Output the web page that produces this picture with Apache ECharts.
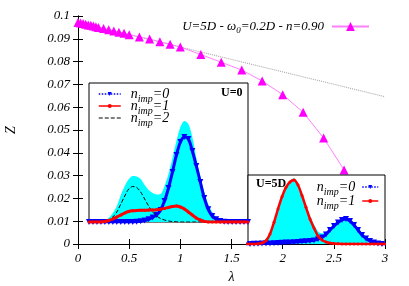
<!DOCTYPE html>
<html>
<head>
<meta charset="utf-8">
<script src="https://cdn.jsdelivr.net/npm/echarts@6/dist/echarts.min.js"></script>
<style>html,body{margin:0;padding:0;background:#fff}#c{width:409px;height:286px}</style>
</head>
<body>
<div id="c"></div>
<script>
// ---- main plot data ----
var lambdaVals = [0,0.025,0.05,0.075,0.1,0.125,0.15,0.175,0.2,0.25,0.3,0.35,0.4,0.45,0.5,0.6,0.7,0.8,0.9,1.0,1.2,1.4,1.6,1.8,2.0,2.2,2.4,2.6,2.8];
var zVals = [0.0972,0.0969,0.0967,0.0964,0.0961,0.0959,0.0956,0.0953,0.0950,0.0945,0.0940,0.0934,0.0929,0.0924,0.0918,0.0908,0.0899,0.0887,0.0876,0.0864,0.0831,0.0797,0.0763,0.0715,0.0655,0.0578,0.0465,0.0325,0.0100];
var linX = [0, 3];
var linZ = [0.0973, 0.0646];
var xTicks = [0, 0.5, 1, 1.5, 2, 2.5, 3];
var yTicks = [0,0.01,0.02,0.03,0.04,0.05,0.06,0.07,0.08,0.09,0.1];

// ---- inset U=0 (arbitrary units) ----
var ins1X = [0,4,8,12,16,20,24,28,32,36,40,44,48,52,56,60,64,68,72,76,80,84,88,92,96,100,104,108,112,116,120,124,128,132,136,140,144,148,152,156,160];
var u0Total = [0,0,0,0,1.5,4.3,9,16,27,36,42.7,46,45.5,43,37,32,29,27.5,28,36,48,64,81,95,101,98,85,64,46,30,18,10,4.5,1.5,0.3,0,0,0,0,0,0];
var u0N0 = [0,0,0,0,0,0,0,0,0,0,0,0,0.3,0.8,1.5,2.7,4.5,7,12,21,34,50,67,80,85,83,71,56,40,24,12.7,6,2.8,1,0.2,0,0,0,0,0,0];
var u0N1 = [0,0,0,0,0.5,1.5,3,5,7,9,10.5,11.2,11.6,11.7,11.8,11.9,12,12.3,12.8,13.6,14.6,15.5,16,15,13,10,7,4,2,0.6,0.1,0,0,0,0,0,0,0,0,0,0];
var u0N2 = [0,0,0,0,0.8,2,5,10,18,26,33,35.5,34.5,30,23,16,10,6,3.5,2,1,0.5,0.2,0,0,0,0,0,0,0,0,0,0,0,0,0,0,0,0,0,0];

// ---- inset U=5D (arbitrary units) ----
var ins2X = [0,4,8,12,16,20,24,28,32,36,40,44,48,52,56,60,64,68,72,76,80,84,88,92,96,100,104,108,112,116,120,124,128,132,136,140];
var u5Total = [0,0.1,0.2,0.6,1.4,3.5,10.6,22.5,36,48.5,58,63.6,65.8,61,51,39.5,28,19.6,12.8,10.5,11.5,15,18.5,21.7,24,25,23,19,14,9,5.5,3,1.5,0.6,0.1,0];
var u5N0 = [0,0.1,0.2,0.3,0.4,0.5,0.6,0.8,1,1.2,1.4,1.6,1.8,2.1,2.4,2.8,3.1,3.6,4.8,6.5,9.5,14,18,21.5,24,25,23,19,14,9,5.5,3,1.5,0.6,0.1,0];
var u5N1 = [0,0,0,0.3,1,3.3,10,21.7,35,47.3,56.7,62,64,59,48.5,36.7,25,16,8,4,2,1,0.5,0.2,0,0,0,0,0,0,0,0,0,0,0,0];

function zip(a, b) { return a.map(function (v, i) { return [v, b[i]]; }); }

var serif = 'Liberation Serif';
var richI = {fontFamily: serif, fontStyle: 'italic', fontSize: 14, lineHeight: 12, color: '#000'};
var richS = {fontFamily: serif, fontStyle: 'italic', fontSize: 10, lineHeight: 12, color: '#000', padding: [10, 0, 0, 0]};
var legendNames = {n0a: '0', n1a: '1', n2a: '2', n0b: '0', n1b: '1'};
function impFmt(name) { return '{i|n}{s|imp}{i|=' + legendNames[name] + '}'; }

var chart = echarts.init(document.getElementById('c'), null, {renderer: 'canvas'});
var tickLbl = {fontFamily: serif, fontStyle: 'italic', fontSize: 13, color: '#000'};
var option = {
  animation: false,
  backgroundColor: '#fff',
  title: [
    {text: 'U=0', left: 221, top: 87, padding: 0, z: 20, textStyle: {fontFamily: serif, fontWeight: 'bold', fontSize: 12, color: '#000'}},
    {text: 'U=5D', left: 256, top: 178, padding: 0, z: 20, textStyle: {fontFamily: serif, fontWeight: 'bold', fontSize: 12, color: '#000'}}
  ],
  grid: [
    {left: 78, top: 16, width: 307, height: 228, containLabel: false, outerBoundsMode: 'none'},
    {left: 89, top: 83, width: 159, height: 139, show: true, backgroundColor: '#fff', borderColor: '#000', borderWidth: 1, z: 5, outerBoundsMode: 'none'},
    {left: 248, top: 175, width: 137, height: 69, show: true, backgroundColor: '#fff', borderColor: '#000', borderWidth: 1, z: 5, outerBoundsMode: 'none'}
  ],
  legend: [
    {data: ['main'], right: 39, top: 18, padding: 0, itemWidth: 37, itemHeight: 11, align: 'right', selectedMode: false,
     formatter: function () { return '{i|U=5D - ω}{s|0}{i|=0.2D - n=0.90}'; },
     textStyle: {padding: [0, 3, 0, 0], rich: {
       i: {fontFamily: serif, fontStyle: 'italic', fontSize: 13, lineHeight: 14, color: '#000'},
       s: {fontFamily: serif, fontStyle: 'italic', fontSize: 9, lineHeight: 14, color: '#000', padding: [8, 0, 0, 0]}}}},
    {data: [{name: 'n0a', lineStyle: {type: 'dotted', width: 1.5}}, {name: 'n1a', lineStyle: {width: 1.5}},
            {name: 'n2a', lineStyle: {type: 'dashed', width: 1}, itemStyle: {color: 'rgba(0,0,0,0)', borderWidth: 0}}],
     left: 98, top: 84, orient: 'vertical', padding: 0, itemWidth: 22, itemHeight: 5, itemGap: -8, selectedMode: false, z: 20,
     formatter: impFmt, textStyle: {padding: [0, 0, 0, 5], rich: {i: richI, s: richS}}},
    {data: [{name: 'n0b', lineStyle: {type: 'dotted', width: 1.5}}, {name: 'n1b', lineStyle: {width: 1.5}}],
     right: 30, top: 177, orient: 'vertical', align: 'right', padding: 0, itemWidth: 16, itemHeight: 5, itemGap: -6, selectedMode: false, z: 20,
     formatter: impFmt, textStyle: {padding: [0, 2, 0, 0], rich: {i: richI, s: richS}}}
  ],
  xAxis: [
    {gridIndex: 0, type: 'value', min: xTicks[0], max: xTicks[xTicks.length - 1], interval: xTicks[1] - xTicks[0], position: 'bottom',
     axisLine: {lineStyle: {color: '#000', width: 1}}, axisTick: {inside: true, length: 5, lineStyle: {color: '#000'}},
     axisLabel: Object.assign({margin: 8}, tickLbl), splitLine: {show: false},
     name: 'λ', nameLocation: 'middle', nameGap: 24, nameTextStyle: {fontFamily: serif, fontStyle: 'italic', fontSize: 14, color: '#000'}},
    {gridIndex: 0, type: 'value', min: xTicks[0], max: xTicks[xTicks.length - 1], interval: xTicks[1] - xTicks[0], position: 'top',
     axisLine: {lineStyle: {color: '#000', width: 1}}, axisTick: {inside: true, length: 5, lineStyle: {color: '#000'}},
     axisLabel: {show: false}, splitLine: {show: false}},
    {gridIndex: 1, type: 'value', min: 0, max: 160, show: false},
    {gridIndex: 2, type: 'value', min: 2, max: 139, show: false}
  ],
  yAxis: [
    {gridIndex: 0, type: 'value', min: yTicks[0], max: yTicks[yTicks.length - 1], interval: 0.01, position: 'left',
     axisLine: {show: true, lineStyle: {color: '#000', width: 1}}, axisTick: {show: true, inside: true, length: 5, lineStyle: {color: '#000'}},
     axisLabel: Object.assign({margin: 8}, tickLbl), splitLine: {show: false},
     name: 'Z', nameLocation: 'middle', nameRotate: 90, nameGap: 60, nameTextStyle: {fontFamily: serif, fontStyle: 'italic', fontSize: 14, color: '#000'}},
    {gridIndex: 0, type: 'value', min: yTicks[0], max: yTicks[yTicks.length - 1], interval: 0.01, position: 'right',
     axisLine: {show: true, lineStyle: {color: '#000', width: 1}}, axisTick: {show: true, inside: true, length: 5, lineStyle: {color: '#000'}},
     axisLabel: {show: false}, splitLine: {show: false}},
    {gridIndex: 1, type: 'value', min: 0, max: 139, show: false},
    {gridIndex: 2, type: 'value', min: 0, max: 69, show: false}
  ],
  series: [
    {type: 'line', name: 'lin', xAxisIndex: 0, yAxisIndex: 0, data: zip(linX, linZ), symbol: 'none',
     lineStyle: {color: '#a0a0a0', width: 1, type: 'dotted'}, z: 2},
    {type: 'line', name: 'main', xAxisIndex: 0, yAxisIndex: 0, data: zip(lambdaVals, zVals), symbol: 'triangle', symbolSize: 9,
     itemStyle: {color: '#ff00ff'}, lineStyle: {color: '#ff80ff', width: 1}, z: 3},

    {type: 'line', name: 'tot0', xAxisIndex: 2, yAxisIndex: 2, data: zip(ins1X, u0Total), symbol: 'none', smooth: 0.3,
     lineStyle: {width: 0}, areaStyle: {color: '#00ffff', opacity: 1}, z: 6},
    {type: 'line', name: 'n0a', xAxisIndex: 2, yAxisIndex: 2, data: zip(ins1X, u0N0), symbol: 'triangle', symbolRotate: 180, symbolSize: 6, smooth: 0.3,
     itemStyle: {color: '#0000ff'}, lineStyle: {color: '#0000ff', width: 3}, z: 7},
    {type: 'line', name: 'n2a', xAxisIndex: 2, yAxisIndex: 2, data: zip(ins1X, u0N2), symbol: 'none', smooth: 0.3,
     itemStyle: {color: '#000'}, lineStyle: {color: '#000', width: 1, type: 'dashed'}, z: 8},
    {type: 'line', name: 'n1a', xAxisIndex: 2, yAxisIndex: 2, data: zip(ins1X, u0N1), symbol: 'circle', symbolSize: 3, smooth: 0.3,
     itemStyle: {color: '#ff0000'}, lineStyle: {color: '#ff0000', width: 3}, z: 9},

    {type: 'line', name: 'tot5', xAxisIndex: 3, yAxisIndex: 3, data: zip(ins2X, u5Total), symbol: 'none', smooth: 0.3,
     lineStyle: {width: 0}, areaStyle: {color: '#00ffff', opacity: 1}, z: 6},
    {type: 'line', name: 'n0b', xAxisIndex: 3, yAxisIndex: 3, data: zip(ins2X, u5N0), symbol: 'triangle', symbolRotate: 180, symbolSize: 6, smooth: 0.3,
     itemStyle: {color: '#0000ff'}, lineStyle: {color: '#0000ff', width: 3}, z: 7},
    {type: 'line', name: 'n1b', xAxisIndex: 3, yAxisIndex: 3, data: zip(ins2X, u5N1), symbol: 'circle', symbolSize: 3, smooth: 0.3,
     itemStyle: {color: '#ff0000'}, lineStyle: {color: '#ff0000', width: 2.5}, z: 9}
  ]
};
chart.setOption(option);
</script>
</body>
</html>
